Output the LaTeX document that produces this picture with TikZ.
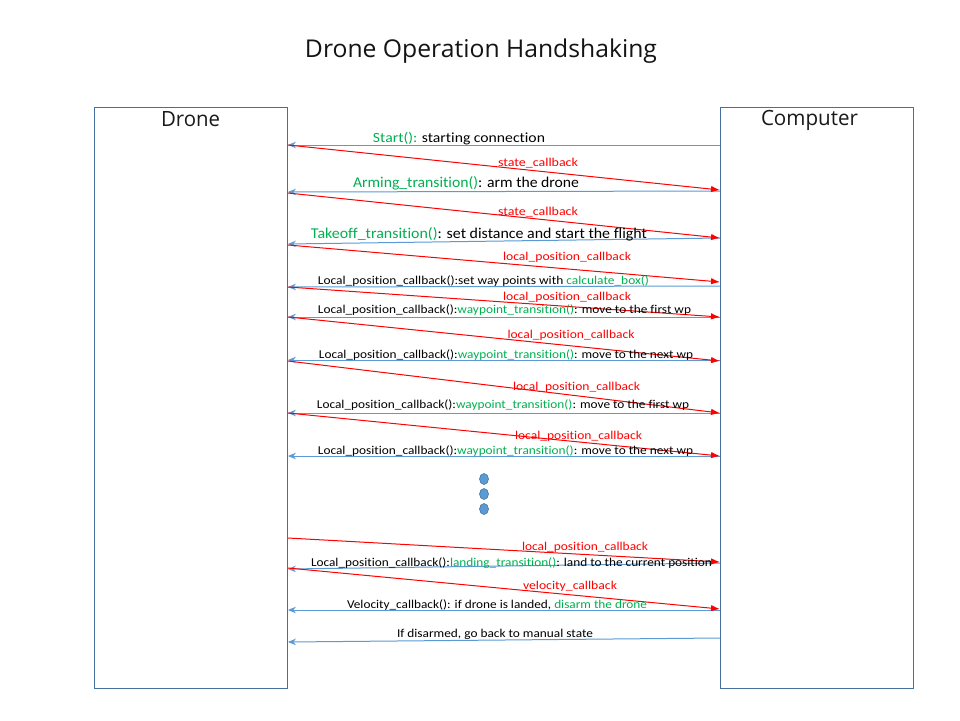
\documentclass[tikz,border=0pt]{standalone}
\usepackage{fontspec}
\setmainfont{Carlito}[Ligatures=NoCommon]
\newfontfamily\headfont{Open Sans}
\usetikzlibrary{arrows.meta}
\definecolor{bline}{RGB}{91,155,213}
\definecolor{boxc}{RGB}{65,113,156}
\definecolor{gtxt}{RGB}{0,176,80}
\definecolor{rtxt}{RGB}{255,0,0}
\newcommand\fw[2]{\resizebox{#1pt}{\height}{#2}}
\begin{document}
\begin{tikzpicture}[x=1pt,y=-1pt,
  lifebox/.style={draw=boxc,line width=0.9pt,minimum width=193pt,minimum height=581pt,anchor=north west,inner sep=0pt},
  barr/.style={draw=bline,line width=1pt,-{Stealth[length=8pt,width=6.5pt]}},
  rarr/.style={draw=rtxt,line width=1pt,-{Latex[length=9pt,width=6.5pt]}},
  big/.style={font=\fontsize{14}{16}\selectfont,anchor=base,inner sep=0pt},
  bigg/.style={font=\fontsize{15}{17}\selectfont,anchor=base,inner sep=0pt},
  sml/.style={font=\fontsize{12}{14}\selectfont,anchor=base,inner sep=0pt},
  rlbl/.style={sml,text=rtxt},
  head/.style={font=\headfont\fontsize{21}{24}\selectfont,anchor=base,inner sep=0pt,text=black!90},
  dotc/.style={fill=bline,draw=boxc,line width=0.6pt}]
\useasboundingbox (0,0) rectangle (960,720);
\fill[white] (0,0) rectangle (960,720);
\node[font=\headfont\fontsize{24.5}{28}\selectfont,anchor=base,inner sep=0pt,text=black!92] (title) at (481,57) {\fw{352}{Drone Operation Handshaking}};
\node[lifebox] (drone) at (94,107) {};
\node[lifebox] (comp) at (720,107) {};
\node[head] (dlab) at (190.5,126) {\fw{59}{Drone}};
\node[head] (clab) at (809.5,125) {\fw{97}{Computer}};
% blue arrows (computer -> drone)
\draw[barr] (comp.west |- 0,145) -- (drone.east |- 0,145);
\draw[barr] (comp.west |- 0,191) -- (drone.east |- 0,192);
\draw[barr] (comp.west |- 0,238) -- (drone.east |- 0,244);
\draw[barr] (comp.west |- 0,286) -- (drone.east |- 0,287);
\draw[barr] (comp.west |- 0,317) -- (drone.east |- 0,317);
\draw[barr] (comp.west |- 0,360) -- (drone.east |- 0,360);
\draw[barr] (comp.west |- 0,413) -- (drone.east |- 0,413);
\draw[barr] (comp.west |- 0,456) -- (drone.east |- 0,456);
\draw[barr] (comp.west |- 0,563) -- (drone.east |- 0,569);
\draw[barr] (comp.west |- 0,610) -- (drone.east |- 0,610);
\draw[barr] (comp.west |- 0,638) -- (drone.east |- 0,642);
% red arrows (drone -> computer)
\draw[rarr] (drone.east |- 0,145) -- (comp.west |- 0,190);
\draw[rarr] (drone.east |- 0,193) -- (comp.west |- 0,238);
\draw[rarr] (drone.east |- 0,245) -- (comp.west |- 0,282);
\draw[rarr] (drone.east |- 0,287) -- (comp.west |- 0,317);
\draw[rarr] (drone.east |- 0,317) -- (comp.west |- 0,361);
\draw[rarr] (drone.east |- 0,361) -- (comp.west |- 0,413);
\draw[rarr] (drone.east |- 0,413) -- (comp.west |- 0,456);
\draw[rarr] (drone.east |- 0,538) -- (comp.west |- 0,562);
\draw[rarr] (drone.east |- 0,568) -- (comp.west |- 0,609);
% labels
\node[big] (t1) at (459,142) {\fw{172}{\textcolor{gtxt}{Start():} starting connection}};
\node[rlbl] (t2) at (538,166) {\fw{80}{state\_callback}};
\node[bigg] (t3) at (466,187) {\fw{226}{\textcolor{gtxt}{Arming\_transition()}: arm the drone}};
\node[rlbl] (t4) at (538,215.5) {\fw{80}{state\_callback}};
\node[bigg] (t5) at (479,238) {\fw{336}{\textcolor{gtxt}{Takeoff\_transition()}: set distance and start the flight}};
\node[rlbl] (t6) at (567,260) {\fw{128}{local\_position\_callback}};
\node[sml] (t7) at (483.5,284) {\fw{331}{Local\_position\_callback():set way points with \textcolor{gtxt}{calculate\_box()}}};
\node[rlbl] (t8) at (567,300) {\fw{128}{local\_position\_callback}};
\node[sml] (t9) at (504.5,313) {\fw{373}{Local\_position\_callback():\textcolor{gtxt}{waypoint\_transition()}: move to the first wp}};
\node[rlbl] (t10) at (571,338) {\fw{127}{local\_position\_callback}};
\node[sml] (t11) at (506,358) {\fw{374}{Local\_position\_callback():\textcolor{gtxt}{waypoint\_transition()}: move to the next wp}};
\node[rlbl] (t12) at (576.5,390) {\fw{127}{local\_position\_callback}};
\node[sml] (t13) at (503,408) {\fw{372}{Local\_position\_callback():\textcolor{gtxt}{waypoint\_transition()}: move to the first wp}};
\node[rlbl] (t14) at (578.5,439) {\fw{127}{local\_position\_callback}};
\node[sml] (t15) at (505.5,454) {\fw{375}{Local\_position\_callback():\textcolor{gtxt}{waypoint\_transition()}: move to the next wp}};
\node[rlbl] (t16) at (585,550) {\fw{126}{local\_position\_callback}};
\node[sml] (t17) at (511.5,566) {\fw{401}{Local\_position\_callback():\textcolor{gtxt}{landing\_transition()}: land to the current position}};
\node[rlbl] (t18) at (570,589) {\fw{94}{velocity\_callback}};
\node[sml] (t19) at (497,608) {\fw{300}{Velocity\_callback(): if drone is landed, \textcolor{gtxt}{disarm the drone}}};
\node[sml] (t20) at (495,637) {\fw{196}{If disarmed, go back to manual state}};
% dots
\path[dotc] (484,479) ellipse [x radius=4.5pt,y radius=5.5pt];
\path[dotc] (484,494) ellipse [x radius=4.5pt,y radius=5.5pt];
\path[dotc] (484,509) ellipse [x radius=4.5pt,y radius=5.5pt];
\end{tikzpicture}
\end{document}
